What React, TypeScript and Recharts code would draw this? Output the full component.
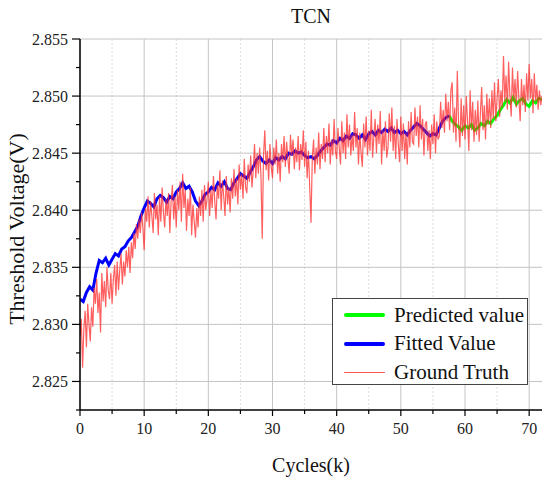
import { LineChart, Line, XAxis, YAxis, CartesianGrid } from 'recharts'

const FONT = "'Liberation Serif', 'DejaVu Serif', serif"

// sampling steps of the three series along Cycles(k)
const FIT_STEP = 0.5
const PRED_START = 57.5
const TRUTH_STEP = 0.2

// Fitted Value (blue), x = 0 .. 57.5
const fittedValues = [
  2.8322, 2.8320, 2.8328, 2.8333, 2.8330, 2.8345, 2.8356, 2.8354, 2.8358, 2.8352,
  2.8357, 2.8362, 2.8360, 2.8366, 2.8368, 2.8373, 2.8376, 2.8381, 2.8386, 2.8395,
  2.8402, 2.8408, 2.8406, 2.8403, 2.8410, 2.8413, 2.8411, 2.8407, 2.8412, 2.8410,
  2.8416, 2.8419, 2.8424, 2.8419, 2.8421, 2.8416, 2.8408, 2.8404, 2.8408, 2.8414,
  2.8416, 2.8420, 2.8418, 2.8424, 2.8421, 2.8425, 2.8419, 2.8418, 2.8424, 2.8428,
  2.8432, 2.8430, 2.8428, 2.8433, 2.8438, 2.8444, 2.8447, 2.8443, 2.8441, 2.8444,
  2.8441, 2.8446, 2.8444, 2.8447, 2.8445, 2.8450, 2.8449, 2.8452, 2.8450, 2.8451,
  2.8448, 2.8446, 2.8447, 2.8445, 2.8448, 2.8452, 2.8455, 2.8458, 2.8457, 2.8461,
  2.8459, 2.8463, 2.8461, 2.8465, 2.8463, 2.8467, 2.8466, 2.8463, 2.8466, 2.8462,
  2.8467, 2.8469, 2.8466, 2.8470, 2.8468, 2.8471, 2.8469, 2.8472, 2.8468, 2.8470,
  2.8467, 2.8469, 2.8466, 2.8470, 2.8473, 2.8476, 2.8474, 2.8471, 2.8468, 2.8465,
  2.8467, 2.8466, 2.8472, 2.8478, 2.8481, 2.8483,
]

// Predicted value (green), x = 57.5 .. 72
const predictedValues = [
  2.8483, 2.8478, 2.8475, 2.8473, 2.8470, 2.8474, 2.8472, 2.8475, 2.8470, 2.8472,
  2.8476, 2.8474, 2.8478, 2.8476, 2.8480, 2.8483, 2.8488, 2.8492, 2.8497, 2.8494,
  2.8499, 2.8493, 2.8496, 2.8498, 2.8493, 2.8491, 2.8496, 2.8494, 2.8498, 2.8497,
]

// Ground Truth (red), x = 0 .. 72, one row per 2k cycles
const truthValues = [
  2.8290, 2.8305, 2.8262, 2.8296, 2.8312, 2.8280, 2.8318, 2.8300, 2.8285, 2.8315,
  2.8298, 2.8332, 2.8318, 2.8340, 2.8310, 2.8328, 2.8293, 2.8345, 2.8320, 2.8338,
  2.8315, 2.8350, 2.8330, 2.8322, 2.8345, 2.8318, 2.8340, 2.8352, 2.8325, 2.8355,
  2.8330, 2.8348, 2.8362, 2.8335, 2.8355, 2.8342, 2.8365, 2.8350, 2.8368, 2.8345,
  2.8372, 2.8358, 2.8380, 2.8366, 2.8388, 2.8375, 2.8392, 2.8380, 2.8398, 2.8385,
  2.8365, 2.8402, 2.8390, 2.8412, 2.8385, 2.8408, 2.8395, 2.8380, 2.8415, 2.8392,
  2.8405, 2.8378, 2.8412, 2.8390, 2.8420, 2.8398, 2.8385, 2.8410, 2.8395, 2.8415,
  2.8380, 2.8408, 2.8422, 2.8392, 2.8412, 2.8385, 2.8418, 2.8400, 2.8425, 2.8390,
  2.8432, 2.8402, 2.8418, 2.8382, 2.8410, 2.8395, 2.8420, 2.8378, 2.8405, 2.8390,
  2.8376, 2.8402, 2.8385, 2.8412, 2.8395, 2.8418, 2.8390, 2.8422, 2.8400, 2.8410,
  2.8425, 2.8395, 2.8418, 2.8402, 2.8430, 2.8408, 2.8392, 2.8422, 2.8410, 2.8435,
  2.8400, 2.8426, 2.8412, 2.8395, 2.8430, 2.8405, 2.8420, 2.8398, 2.8428, 2.8410,
  2.8436, 2.8412, 2.8428, 2.8405, 2.8440, 2.8418, 2.8432, 2.8410, 2.8445, 2.8420,
  2.8415, 2.8440, 2.8425, 2.8448, 2.8420, 2.8435, 2.8458, 2.8428, 2.8450, 2.8432,
  2.8455, 2.8430, 2.8375, 2.8448, 2.8470, 2.8435, 2.8452, 2.8426, 2.8458, 2.8438,
  2.8428, 2.8455, 2.8440, 2.8462, 2.8432, 2.8450, 2.8425, 2.8458, 2.8442, 2.8465,
  2.8438, 2.8460, 2.8445, 2.8432, 2.8466, 2.8448, 2.8462, 2.8436, 2.8455, 2.8442,
  2.8465, 2.8435, 2.8458, 2.8444, 2.8470, 2.8438, 2.8460, 2.8428, 2.8452, 2.8420,
  2.8389, 2.8445, 2.8462, 2.8432, 2.8455, 2.8440, 2.8468, 2.8436, 2.8458, 2.8445,
  2.8472, 2.8442, 2.8465, 2.8450, 2.8476, 2.8440, 2.8462, 2.8448, 2.8480, 2.8452,
  2.8445, 2.8472, 2.8455, 2.8440, 2.8478, 2.8450, 2.8468, 2.8445, 2.8484, 2.8455,
  2.8475, 2.8448, 2.8466, 2.8452, 2.8486, 2.8455, 2.8472, 2.8440, 2.8468, 2.8450,
  2.8438, 2.8476, 2.8455, 2.8482, 2.8448, 2.8470, 2.8452, 2.8488, 2.8446, 2.8465,
  2.8480, 2.8450, 2.8475, 2.8458, 2.8487, 2.8440, 2.8470, 2.8452, 2.8478, 2.8446,
  2.8455, 2.8485, 2.8460, 2.8490, 2.8452, 2.8474, 2.8445, 2.8480, 2.8458, 2.8442,
  2.8482, 2.8452, 2.8476, 2.8445, 2.8468, 2.8440, 2.8478, 2.8455, 2.8486, 2.8460,
  2.8458, 2.8490, 2.8465, 2.8482, 2.8455, 2.8492, 2.8462, 2.8480, 2.8448, 2.8475,
  2.8478, 2.8452, 2.8470, 2.8445, 2.8475, 2.8458, 2.8484, 2.8450, 2.8478, 2.8462,
  2.8465, 2.8495, 2.8472, 2.8488, 2.8468, 2.8502, 2.8478, 2.8495, 2.8470, 2.8505,
  2.8512, 2.8468, 2.8490, 2.8460, 2.8522, 2.8475, 2.8455, 2.8498, 2.8465, 2.8492,
  2.8462, 2.8500, 2.8478, 2.8452, 2.8505, 2.8470, 2.8495, 2.8460, 2.8488, 2.8466,
  2.8496, 2.8460, 2.8485, 2.8508, 2.8470, 2.8492, 2.8462, 2.8502, 2.8475, 2.8498,
  2.8472, 2.8505, 2.8480, 2.8512, 2.8478, 2.8498, 2.8515, 2.8482, 2.8505, 2.8490,
  2.8535, 2.8495, 2.8518, 2.8488, 2.8530, 2.8500, 2.8482, 2.8525, 2.8495, 2.8515,
  2.8490, 2.8522, 2.8498, 2.8478, 2.8515, 2.8492, 2.8510, 2.8486, 2.8520, 2.8496,
  2.8528, 2.8498, 2.8515, 2.8485, 2.8520, 2.8495, 2.8510, 2.8488, 2.8505, 2.8492,
  2.8500,
]

const xMajorTicks = [0, 10, 20, 30, 40, 50, 60, 70]
const xMinorTicks = [5, 15, 25, 35, 45, 55, 65]
const yMajorTicks = [2.825, 2.83, 2.835, 2.84, 2.845, 2.85, 2.855]
const yMinorTicks = [2.8225, 2.8275, 2.8325, 2.8375, 2.8425, 2.8475, 2.8525]

const legendItems = [
  { name: 'Predicted value', color: '#00ff00', width: 4 },
  { name: 'Fitted Value', color: '#0000ff', width: 4 },
  { name: 'Ground Truth', color: '#ff5555', width: 1.5 },
]

const fitted = fittedValues.map((v, i) => ({ x: i * FIT_STEP, v }))
const predicted = predictedValues.map((v, i) => ({ x: PRED_START + i * FIT_STEP, v }))
const truth = truthValues.map((v, i) => ({ x: i * TRUTH_STEP, v }))

function YTick({ x, y, payload }: any) {
  const major = yMajorTicks.includes(payload.value)
  return (
    <g>
      <line x1={x - (major ? 8 : 4)} x2={x} y1={y} y2={y} stroke="#000" strokeWidth={1.2} />
      {major && (
        <text x={x - 12} y={y} textAnchor="end" dominantBaseline="central"
          fontFamily={FONT} fontSize={16} fill="#222" style={{ fontFamily: FONT }}>
          {payload.value.toFixed(3)}
        </text>
      )}
    </g>
  )
}

function XTick({ x, y, payload }: any) {
  const major = xMajorTicks.includes(payload.value)
  return (
    <g>
      <line x1={x} x2={x} y1={y} y2={y + (major ? 6 : 4)} stroke="#000" strokeWidth={1.2} />
      {major && (
        <text x={x} y={y + 24} textAnchor="middle"
          fontFamily={FONT} fontSize={16} fill="#222" style={{ fontFamily: FONT }}>
          {payload.value}
        </text>
      )}
    </g>
  )
}

export default function App() {
  return (
    <div style={{ position: 'absolute', left: 0, top: 0, width: 550, height: 486, background: '#fff', fontFamily: FONT }}>
      <LineChart width={550} height={486} margin={{ top: 39, right: 8, bottom: 0, left: 0 }}>
        <CartesianGrid verticalValues={xMinorTicks} horizontal={false} stroke="#dcdcdc" strokeDasharray="2 2" />
        <CartesianGrid verticalValues={xMajorTicks} horizontalValues={yMajorTicks} stroke="#c4c4c4" />
        <XAxis
          dataKey="x"
          type="number"
          domain={[0, 72]}
          ticks={[...xMajorTicks, ...xMinorTicks].sort((a, b) => a - b)}
          allowDataOverflow
          height={76}
          tickSize={0}
          tickMargin={0}
          tick={<XTick />}
          axisLine={{ stroke: '#000', strokeWidth: 1.5 }}
        />
        <YAxis
          type="number"
          domain={[2.8225, 2.855]}
          ticks={[...yMajorTicks, ...yMinorTicks].sort((a, b) => a - b)}
          allowDataOverflow
          width={80}
          tickSize={0}
          tickMargin={0}
          tick={<YTick />}
          axisLine={{ stroke: '#000', strokeWidth: 1.5 }}
        />
        <Line data={predicted} dataKey="v" stroke="#00ff00" strokeWidth={3} dot={false} isAnimationActive={false} />
        <Line data={fitted} dataKey="v" stroke="#0000ff" strokeWidth={3} dot={false} isAnimationActive={false} />
        <Line data={truth} dataKey="v" stroke="#ff2a2a" strokeOpacity={0.75} strokeWidth={1.2} dot={false} isAnimationActive={false} />
      </LineChart>

      <div style={{ position: 'absolute', left: 80, top: 6, width: 462, textAlign: 'center', fontSize: 20, lineHeight: 1, color: '#111' }}>
        TCN
      </div>
      <div style={{ position: 'absolute', left: 80, top: 455, width: 462, textAlign: 'center', fontSize: 20, lineHeight: 1, color: '#111' }}>
        Cycles(k)
      </div>
      <div style={{
        position: 'absolute', left: 17, top: 229, transform: 'translate(-50%, -50%) rotate(-90deg)',
        whiteSpace: 'nowrap', fontSize: 22, lineHeight: 1, color: '#111',
      }}>
        Threshold Voltage(V)
      </div>

      <div style={{
        position: 'absolute', left: 332, top: 298, width: 196, height: 87, boxSizing: 'border-box',
        border: '1px solid #444', background: '#fff', paddingTop: 2,
      }}>
        {legendItems.map((item) => (
          <div key={item.name} style={{ display: 'flex', alignItems: 'center', height: 28.5 }}>
            <div style={{ marginLeft: 11, width: 41, height: item.width, background: item.color, borderRadius: 2 }} />
            <span style={{ marginLeft: 9, fontSize: 21, lineHeight: 1, color: '#111' }}>{item.name}</span>
          </div>
        ))}
      </div>
    </div>
  )
}
